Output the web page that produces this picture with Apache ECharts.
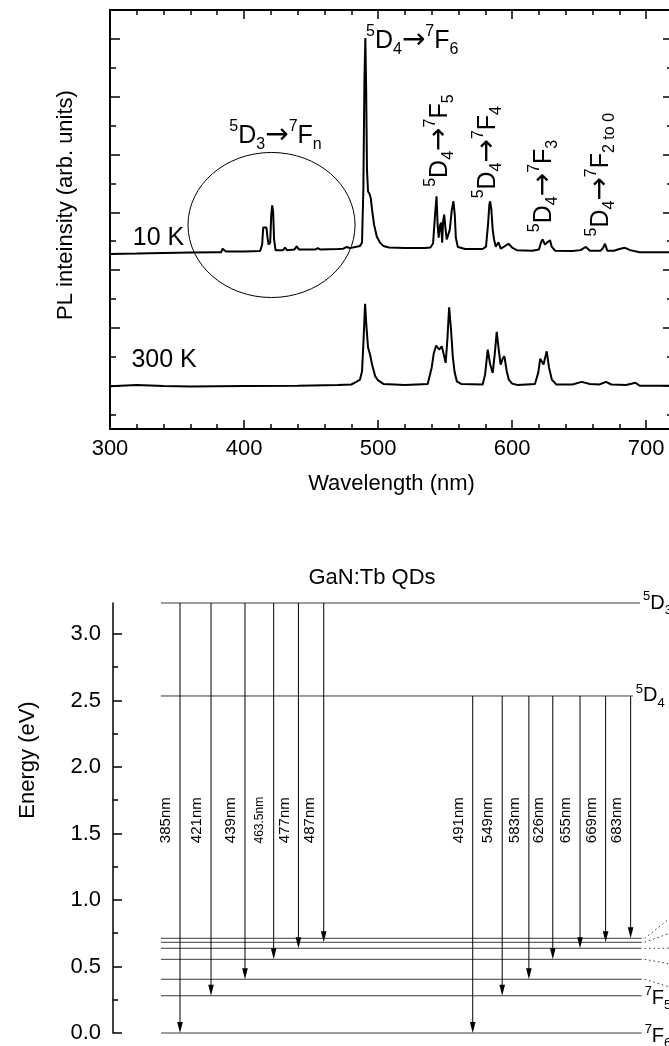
<!DOCTYPE html>
<html>
<head>
<meta charset="utf-8">
<script src="https://cdn.jsdelivr.net/npm/echarts@6/dist/echarts.min.js"></script>
<style>
  html, body { margin: 0; padding: 0; background: #fff; }
  #chart { width: 669px; height: 1046px; }
</style>
</head>
<body>
<div id="chart"></div>
<script>
const FONT = '"Liberation Sans", Arial, Helvetica, sans-serif';

// ---- PL spectra (arbitrary units, curves offset by temperature) ----
const wavelength10K = [300, 320, 340, 360, 380, 383, 384, 385, 386.5, 400, 412, 413.5, 414.3, 415.5, 416.7, 417.5, 418.3, 419.5, 420.3, 421, 421.7, 422.4, 423.5, 429, 430.6, 432, 437.5, 439.3, 441, 453, 455, 457, 470, 474, 476.6, 479, 483, 486.5, 488, 489, 489.8, 490.5, 491.1, 491.7, 492.5, 493.5, 494.5, 495.5, 497, 499, 501.4, 504, 508, 520, 535, 539, 541, 542.5, 543.6, 544.4, 545.2, 546.2, 547, 547.8, 548.5, 549.3, 550.2, 551.2, 552.2, 553.5, 555, 556.2, 557.2, 558, 559.5, 565, 578, 580.5, 582, 583, 583.6, 584.5, 585.5, 586.5, 587.8, 589.8, 591.5, 594, 597.3, 600, 603.5, 615, 620, 621.5, 622.7, 624.5, 626, 628.3, 629.5, 632, 645, 651, 655, 658, 666, 668, 669.3, 671, 676, 680, 684.2, 688, 695, 705, 720];
const intensity10K = [5.56, 5.57, 5.59, 5.61, 5.62, 5.62, 5.74, 5.78, 5.64, 5.64, 5.66, 5.88, 6.47, 6.52, 6.47, 6.12, 5.88, 5.95, 6.92, 7.24, 7.02, 6.06, 5.69, 5.69, 5.78, 5.69, 5.71, 5.82, 5.71, 5.71, 5.76, 5.71, 5.73, 5.74, 5.80, 5.76, 5.80, 5.83, 5.95, 7.79, 11.59, 13.03, 11.25, 8.48, 7.72, 7.65, 7.50, 7.09, 6.57, 6.16, 5.95, 5.83, 5.78, 5.76, 5.76, 5.78, 5.92, 6.92, 7.55, 6.57, 6.12, 6.54, 6.64, 5.95, 6.68, 6.92, 6.47, 6.06, 6.00, 6.40, 7.09, 7.38, 6.92, 6.12, 5.80, 5.73, 5.73, 5.81, 6.57, 7.27, 7.38, 7.09, 6.40, 6.06, 5.81, 5.96, 5.74, 5.81, 5.91, 5.78, 5.69, 5.67, 5.71, 5.95, 6.06, 5.88, 5.95, 6.03, 5.81, 5.67, 5.66, 5.69, 5.80, 5.67, 5.67, 5.78, 5.91, 5.67, 5.67, 5.73, 5.77, 5.69, 5.62, 5.62, 5.62];

const wavelength300K = [300, 320, 340, 360, 400, 440, 470, 480, 483, 486.5, 488, 489, 490.3, 491.2, 492.5, 494, 495.5, 497.8, 500, 504, 520, 537, 540, 541.5, 543.3, 545.5, 547.5, 549, 550.4, 551.7, 553, 554.3, 555.7, 557, 558.7, 562, 578, 579.8, 581.8, 583.5, 585.5, 587, 588.5, 590, 591.4, 593, 594.2, 596, 597.5, 600, 604, 617, 619.5, 620.9, 623.4, 625.8, 627.5, 629.6, 633, 645, 651.8, 658, 665, 670, 674, 685, 692, 695, 720];
const intensity300K = [0.98, 1.02, 0.99, 0.97, 0.99, 1.00, 1.02, 1.04, 1.11, 1.21, 1.49, 2.42, 3.83, 3.11, 2.32, 2.08, 1.73, 1.33, 1.18, 1.06, 1.02, 1.06, 1.63, 2.11, 2.39, 2.25, 2.36, 2.08, 1.79, 2.60, 3.71, 3.01, 2.02, 1.49, 1.15, 1.06, 1.04, 1.38, 2.25, 1.76, 1.44, 2.08, 2.86, 2.25, 1.73, 1.94, 2.02, 1.49, 1.21, 1.07, 1.02, 1.06, 1.45, 1.93, 1.73, 2.19, 1.63, 1.21, 1.04, 1.04, 1.13, 1.06, 1.04, 1.13, 1.04, 1.02, 1.10, 1.00, 1.00];

// ---- axis ticks ----
const wavelengthMajor = [300, 400, 500, 600, 700];
const wavelengthMinor = [320, 340, 360, 380, 420, 440, 460, 480, 520, 540, 560, 580, 620, 640, 660, 680, 720];
const intensityMajor = [1, 3, 5, 7, 9, 11, 13];
const intensityMinor = [0, 2, 4, 6, 8, 10, 12];
const energyMajor = [0, 0.5, 1.0, 1.5, 2.0, 2.5, 3.0];
const energyMinor = [0.25, 0.75, 1.25, 1.75, 2.25, 2.75];

// ---- spectrum annotations ----
const tempLabel = ['10 K', '300 K'];
const tempAt = [[317, 6.09], [316, 1.87]];
const noteUpper = ['5D3', '5D4', '5D4', '5D4', '5D4', '5D4'];
const noteLower = ['7Fn', '7F6', '7F5', '7F4', '7F3', '7F2 to 0'];
const noteAt = [[423.5, 9.65], [491.0, 12.94], [546.2, 9.48], [582.0, 9.08], [623.8, 7.91], [666.3, 8.30]];
const noteRotate = [0, 0, 90, 90, 90, 90];
const noteAlign = ['center', 'left', 'center', 'center', 'center', 'center'];
// circled region around the 5D3 emission lines: centre, half-width (nm), half-height
const ringAt = [[420.5, 6.56, 62.3, 2.51]];

// ---- energy level scheme (eV) ----
const levelName = ['5D3', '5D4', '7F0', '7F1', '7F2', '7F3', '7F4', '7F5', '7F6'];
const levelEnergy = [3.233, 2.534, 0.712, 0.682, 0.637, 0.554, 0.404, 0.280, 0];
const transUpper = ['5D3', '5D3', '5D3', '5D3', '5D3', '5D3', '5D4', '5D4', '5D4', '5D4', '5D4', '5D4', '5D4'];
const transLower = ['7F6', '7F5', '7F4', '7F3', '7F2', '7F1', '7F6', '7F5', '7F4', '7F3', '7F2', '7F1', '7F0'];
const transLabel = ['385nm', '421nm', '439nm', '463.5nm', '477nm', '487nm', '491nm', '549nm', '583nm', '626nm', '655nm', '669nm', '683nm'];

// layout of the scheme (horizontal units 0..100 across the panel)
const arrowColumn = [12.05, 17.63, 23.74, 28.9, 33.35, 37.9, 64.7, 70.0, 74.8, 79.1, 84.0, 88.6, 93.1];
const levelStart = 8.63;
const levelStop = [94.8, 93.5, 95.08, 95.08, 95.08, 95.08, 95.08, 95.08, 95.08];
// dotted leaders towards level names placed beyond the right edge
const leaderTarget = [null, null, 0.99, 0.809, 0.637, 0.491, 0.295, null, null];
const leaderX = 104;
const labelEnergy = 1.6;

const energyOf = name => levelEnergy[levelName.indexOf(name)];

// rich-text term such as 5D4 -> superscript 5, D, subscript 4
function term(t) {
  return '{sup|' + t[0] + '}{m|' + t[1] + '}{sub|' + t.slice(2) + '}';
}
function richSet(big, small, lh) {
  return {
    m: { fontSize: big, lineHeight: lh, fontFamily: FONT, fill: '#000', verticalAlign: 'middle' },
    arr: { fontSize: big * 1.12, lineHeight: lh, fontFamily: '"DejaVu Sans", sans-serif', fill: '#000', verticalAlign: 'middle' },
    sup: { fontSize: small, lineHeight: small, fontFamily: FONT, fill: '#000', verticalAlign: 'top' },
    sub: { fontSize: small, lineHeight: small + 2, fontFamily: FONT, fill: '#000', verticalAlign: 'bottom' }
  };
}
const noteRich = richSet(25, 16, 34);
const levelRich = richSet(20, 13, 27);

const chart = echarts.init(document.getElementById('chart'), null, { renderer: 'canvas' });

const tickStyle = { color: '#000', width: 1.5 };
const spine = { onZero: false, lineStyle: { color: '#000', width: 2 } };
const blankAxis = { axisLine: { show: false, onZero: false }, axisLabel: { show: false }, splitLine: { show: false } };

const option = {
  animation: false,
  backgroundColor: '#fff',
  grid: [
    { left: 110, top: 10, width: 563, height: 419, containLabel: false, outerBoundsMode: 'none' },
    { left: 113, top: 603, width: 556, height: 430, containLabel: false, outerBoundsMode: 'none' }
  ],
  xAxis: [
    {
      gridIndex: 0, type: 'value', position: 'bottom', min: 300, max: 720, interval: 100,
      axisLine: spine,
      axisTick: { inside: true, length: 9, lineStyle: tickStyle, customValues: wavelengthMajor },
      axisLabel: { color: '#000', fontSize: 22, fontFamily: FONT, margin: 9, customValues: wavelengthMajor },
      splitLine: { show: false },
      name: 'Wavelength (nm)', nameLocation: 'middle', nameGap: 44,
      nameTextStyle: { color: '#000', fontSize: 22, fontFamily: FONT }
    },
    Object.assign({
      gridIndex: 0, type: 'value', position: 'bottom', min: 300, max: 720, interval: 20,
      axisTick: { inside: true, length: 5, lineStyle: tickStyle, customValues: wavelengthMinor }
    }, blankAxis),
    {
      gridIndex: 0, type: 'value', position: 'top', min: 300, max: 720, interval: 100,
      axisLine: spine,
      axisTick: { inside: true, length: 9, lineStyle: tickStyle, customValues: wavelengthMajor },
      axisLabel: { show: false }, splitLine: { show: false }
    },
    Object.assign({
      gridIndex: 0, type: 'value', position: 'top', min: 300, max: 720, interval: 20,
      axisTick: { inside: true, length: 5, lineStyle: tickStyle, customValues: wavelengthMinor }
    }, blankAxis),
    { gridIndex: 1, type: 'value', min: 0, max: 100, show: false, axisLine: { onZero: false } }
  ],
  yAxis: [
    {
      gridIndex: 0, type: 'value', position: 'left', min: -0.5, max: 14,
      axisLine: spine,
      axisTick: { inside: true, length: 10, lineStyle: tickStyle, customValues: intensityMajor },
      axisLabel: { show: false }, splitLine: { show: false }
    },
    Object.assign({
      gridIndex: 0, type: 'value', position: 'left', min: -0.5, max: 14,
      axisTick: { inside: true, length: 6, lineStyle: tickStyle, customValues: intensityMinor }
    }, blankAxis),
    {
      gridIndex: 0, type: 'value', position: 'right', min: -0.5, max: 14,
      axisLine: spine,
      axisTick: { inside: true, length: 10, lineStyle: tickStyle, customValues: intensityMajor },
      axisLabel: { show: false }, splitLine: { show: false }
    },
    Object.assign({
      gridIndex: 0, type: 'value', position: 'right', min: -0.5, max: 14,
      axisTick: { inside: true, length: 6, lineStyle: tickStyle, customValues: intensityMinor }
    }, blankAxis),
    {
      gridIndex: 1, type: 'value', position: 'left', min: 0, max: 3.233,
      axisLine: { onZero: false, lineStyle: { color: '#000', width: 1.5 } },
      axisTick: { inside: true, length: 9, lineStyle: tickStyle, customValues: energyMajor },
      axisLabel: {
        color: '#000', fontSize: 22, fontFamily: FONT, margin: 12, customValues: energyMajor,
        formatter: v => Number(v).toFixed(1)
      },
      splitLine: { show: false }
    },
    Object.assign({
      gridIndex: 1, type: 'value', position: 'left', min: 0, max: 3.233,
      axisTick: { inside: true, length: 5, lineStyle: tickStyle, customValues: energyMinor }
    }, blankAxis)
  ],
  graphic: [
    {
      type: 'text', x: 66, y: 205, rotation: Math.PI / 2,
      style: { text: 'PL inteinsity (arb. units)', fill: '#000', fontSize: 22, fontFamily: FONT, align: 'center', verticalAlign: 'middle' }
    },
    {
      type: 'text', x: 28, y: 760, rotation: Math.PI / 2,
      style: { text: 'Energy (eV)', fill: '#000', fontSize: 22, fontFamily: FONT, align: 'center', verticalAlign: 'middle' }
    },
    {
      type: 'text', x: 372, y: 578,
      style: { text: 'GaN:Tb QDs', fill: '#000', fontSize: 22, fontFamily: FONT, align: 'center', verticalAlign: 'middle' }
    }
  ],
  series: [
    {
      name: '10 K', type: 'line', xAxisIndex: 0, yAxisIndex: 0, symbol: 'none',
      data: wavelength10K.map((w, i) => [w, intensity10K[i]]),
      lineStyle: { color: '#000', width: 2 }, z: 3
    },
    {
      name: '300 K', type: 'line', xAxisIndex: 0, yAxisIndex: 0, symbol: 'none',
      data: wavelength300K.map((w, i) => [w, intensity300K[i]]),
      lineStyle: { color: '#000', width: 2 }, z: 3
    },
    {
      type: 'custom', xAxisIndex: 0, yAxisIndex: 0, data: ringAt, z: 4,
      renderItem(params, api) {
        const c = api.coord([api.value(0), api.value(1)]);
        const s = api.size([api.value(2), api.value(3)]);
        return { type: 'ellipse', shape: { cx: c[0], cy: c[1], rx: s[0], ry: s[1] }, style: { fill: 'none', stroke: '#000', lineWidth: 1 } };
      }
    },
    {
      type: 'custom', xAxisIndex: 0, yAxisIndex: 0, data: tempAt, z: 5,
      renderItem(params, api) {
        const p = api.coord([api.value(0), api.value(1)]);
        return {
          type: 'text', x: p[0], y: p[1],
          style: { text: tempLabel[params.dataIndex], fill: '#000', fontSize: 25, fontFamily: FONT, align: 'left', verticalAlign: 'middle' }
        };
      }
    },
    {
      type: 'custom', xAxisIndex: 0, yAxisIndex: 0, data: noteAt, z: 5,
      renderItem(params, api) {
        const i = params.dataIndex;
        const p = api.coord([api.value(0), api.value(1)]);
        return {
          type: 'text', x: p[0], y: p[1], rotation: noteRotate[i] * Math.PI / 180,
          style: {
            text: term(noteUpper[i]) + '{arr|→}' + term(noteLower[i]),
            rich: noteRich, fill: '#000', fontFamily: FONT, fontSize: 25,
            align: noteAlign[i], verticalAlign: 'middle'
          }
        };
      }
    },
    {
      // energy levels, their names and dotted leaders
      type: 'custom', xAxisIndex: 4, yAxisIndex: 4, data: levelEnergy.map(e => [levelStart, e]), z: 2,
      renderItem(params, api) {
        const i = params.dataIndex;
        const e = levelEnergy[i];
        const a = api.coord([levelStart, e]);
        const b = api.coord([levelStop[i], e]);
        const kids = [{ type: 'line', shape: { x1: a[0], y1: a[1], x2: b[0], y2: b[1] }, style: { stroke: '#3a3a3a', lineWidth: 1 } }];
        if (leaderTarget[i] !== null) {
          const c = api.coord([leaderX, leaderTarget[i]]);
          kids.push({ type: 'line', shape: { x1: b[0] + 3, y1: b[1], x2: c[0], y2: c[1] }, style: { stroke: '#333', lineWidth: 1, lineDash: [1.5, 3] } });
        } else {
          kids.push({
            type: 'text', x: b[0] + 3, y: b[1] + (levelName[i][0] === '7' ? 3 : 0),
            style: { text: term(levelName[i]), rich: levelRich, fill: '#000', fontFamily: FONT, fontSize: 20, align: 'left', verticalAlign: 'middle' }
          });
        }
        return { type: 'group', children: kids };
      }
    },
    {
      // radiative transitions
      type: 'custom', xAxisIndex: 4, yAxisIndex: 4, z: 3,
      data: transLabel.map((t, i) => [arrowColumn[i], energyOf(transUpper[i]), energyOf(transLower[i])]),
      renderItem(params, api) {
        const i = params.dataIndex;
        const x = api.value(0);
        const p1 = api.coord([x, api.value(1)]);
        const p2 = api.coord([x, api.value(2)]);
        const pl = api.coord([x, labelEnergy]);
        const small = transLabel[i].length > 5;
        return {
          type: 'group', children: [
            { type: 'line', shape: { x1: p1[0], y1: p1[1], x2: p2[0], y2: p2[1] - 6 }, style: { stroke: '#000', lineWidth: 1 } },
            { type: 'polygon', shape: { points: [[p2[0] - 2.8, p2[1] - 11], [p2[0] + 2.8, p2[1] - 11], [p2[0], p2[1]]] }, style: { fill: '#000' } },
            {
              type: 'text', x: p1[0] - 14, y: pl[1], rotation: Math.PI / 2,
              style: { text: transLabel[i], fill: '#000', fontSize: small ? 12 : 15, fontFamily: FONT, align: 'center', verticalAlign: 'middle' }
            }
          ]
        };
      }
    }
  ]
};

chart.setOption(option);
</script>
</body>
</html>
